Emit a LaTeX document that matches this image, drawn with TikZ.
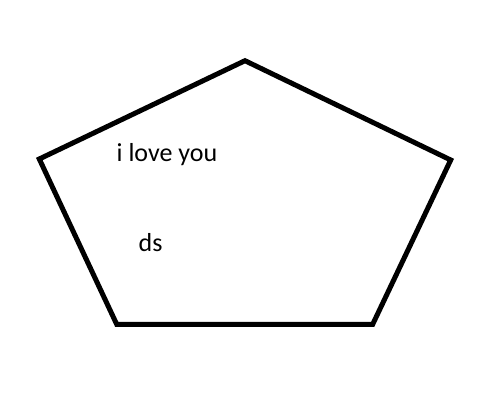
\documentclass[tikz,border=0pt]{standalone}
\usepackage{fontspec}
\setmainfont{Carlito}
\tikzset{
  shape line/.style={line width=5pt, line join=miter, black},
  label text/.style={inner sep=0pt, anchor=base west, font=\fontsize{26}{31}\selectfont}
}
\begin{document}
\begin{tikzpicture}[x=1pt,y=1pt]
\useasboundingbox (0,0) rectangle (487,406);
\coordinate (top) at (245,345.3);
\coordinate (right) at (450.7,246);
\coordinate (br) at (372.7,81.7);
\coordinate (bl) at (116.7,81.7);
\coordinate (left) at (39.3,247);
\draw[shape line] (top) -- (right) -- (br) -- (bl) -- (left) -- cycle;
\node[label text] (t1) at (116.5,244.3) {i love you};
\node[label text] (t2) at (138.5,154.3) {ds};
\end{tikzpicture}
\end{document}
